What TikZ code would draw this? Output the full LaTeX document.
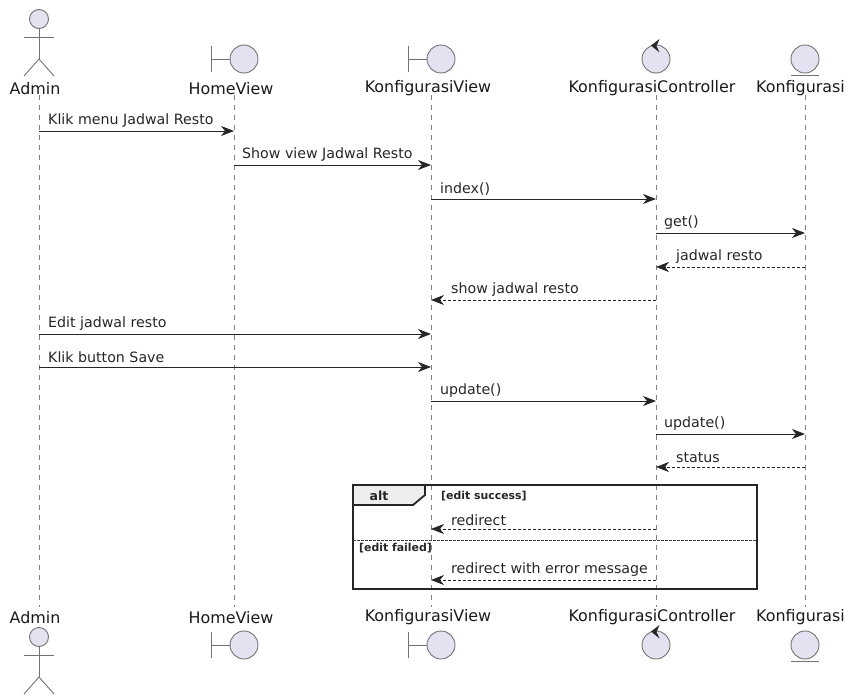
\documentclass[tikz,border=0pt]{standalone}
\usepackage{fontspec}
\setmainfont{DejaVu Sans}
\usetikzlibrary{arrows.meta}
\tikzset{
  headlabel/.style={font=\fontsize{15.9}{19}\selectfont, text=black!90, inner sep=0pt},
  msglabel/.style={font=\fontsize{14.2}{17}\selectfont, text=black!85, anchor=west, inner sep=0pt},
  guardlabel/.style={font=\bfseries\fontsize{10.9}{13}\selectfont, text=black!85, anchor=west, inner sep=0pt},
  lifeline/.style={draw=black!50, dash pattern=on 5pt off 5pt, line width=0.7pt},
  icon/.style={draw=black!55, fill=iconfill, line width=0.9pt},
  iconline/.style={draw=black!55, line width=0.9pt},
  msg/.style={-{Stealth[length=13pt,width=10pt,inset=4pt]}, draw=black!85, line width=0.9pt},
  reply/.style={msg, line width=0.7pt, dash pattern=on 3pt off 2pt},
}
\definecolor{iconfill}{HTML}{E2E2F0}
\begin{document}
\begin{tikzpicture}[x=1pt, y=-1pt]
    \useasboundingbox (0,0) rectangle (846,698);

    % lifelines
    \foreach \name/\x in {admin/39, home/234, kview/431, kctrl/656, konf/805} {
      \coordinate (\name Top) at (\x,95);
      \coordinate (\name Bot) at (\x,607);
      \draw[lifeline] (\name Top) -- (\name Bot);
    }

    % names
    \foreach \name/\x/\txt in {admin/35/Admin, home/231/HomeView, kview/428/KonfigurasiView, kctrl/652/KonfigurasiController, konf/800.5/Konfigurasi} {
      \node[headlabel] (\name LabelA) at (\x,88.5) {\txt};
      \node[headlabel] (\name LabelB) at (\x,617.5) {\txt};
    }

    % actor
    \foreach \s/\yy in {A/0, B/618} {
      \node[icon, circle, minimum size=19pt, inner sep=0pt] (adminHead\s) at (39,19+\yy) {};
      \draw[iconline] (24,37+\yy) -- (54,37+\yy);
      \draw[iconline] (adminHead\s) -- (39,59+\yy);
      \draw[iconline] (24,76+\yy) -- (39,59+\yy) -- (54,76+\yy);
    }

    % boundary
    \foreach \name/\x in {home/244, kview/441} {
      \foreach \s/\yy in {A/59, B/645} {
        \node[icon, circle, minimum size=28pt, inner sep=0pt] (\name Ball\s) at (\x,\yy) {};
        \draw[iconline] (\x-33,\yy-13) -- (\x-33,\yy+13);
        \draw[iconline] (\x-33,\yy) -- (\name Ball\s);
      }
    }

    % control
    \foreach \s/\yy in {A/59, B/645} {
      \node[icon, circle, minimum size=28pt, inner sep=0pt] (kctrlBall\s) at (656,\yy) {};
      \fill[black!85] (651,\yy-13.5) -- (659.5,\yy-20) -- (656.5,\yy-13) -- (659.5,\yy-6.5) -- cycle;
    }

    % entity
    \foreach \s/\yy/\u in {A/59/75.5, B/645/661} {
      \node[icon, circle, minimum size=28pt, inner sep=0pt] (konfBall\s) at (805,\yy) {};
      \draw[iconline] (791,\u) -- (819,\u);
    }

    % rows
    \foreach \r/\y in {1/131, 2/165, 3/199, 4/233, 5/267, 6/300, 7/334, 8/367, 9/401, 10/434, 11/467, 12/529, 13/580} {
      \coordinate (row\r) at (0,\y);
    }

    % messages
    \draw[msg] (adminTop |- row1) -- (homeTop |- row1);
    \node[msglabel] (txtA) at (48,121) {Klik menu Jadwal Resto};
    \draw[msg] (homeTop |- row2) -- (kviewTop |- row2);
    \node[msglabel] (txtB) at (242,155) {Show view Jadwal Resto};
    \draw[msg] (kviewTop |- row3) -- (kctrlTop |- row3);
    \node[msglabel] (txtC) at (440,189) {index()};
    \draw[msg] (kctrlTop |- row4) -- (konfTop |- row4);
    \node[msglabel] (txtD) at (664,223) {get()};
    \draw[reply] (konfTop |- row5) -- (kctrlTop |- row5);
    \node[msglabel] (txtE) at (676,257) {jadwal resto};
    \draw[reply] (kctrlTop |- row6) -- (kviewTop |- row6);
    \node[msglabel] (txtF) at (451,290) {show jadwal resto};
    \draw[msg] (adminTop |- row7) -- (kviewTop |- row7);
    \node[msglabel] (txtG) at (48,324) {Edit jadwal resto};
    \draw[msg] (adminTop |- row8) -- (kviewTop |- row8);
    \node[msglabel] (txtH) at (48,357) {Klik button Save};
    \draw[msg] (kviewTop |- row9) -- (kctrlTop |- row9);
    \node[msglabel] (txtI) at (440,391) {update()};
    \draw[msg] (kctrlTop |- row10) -- (konfTop |- row10);
    \node[msglabel] (txtJ) at (664,424) {update()};
    \draw[reply] (konfTop |- row11) -- (kctrlTop |- row11);
    \node[msglabel] (txtK) at (676,458) {status};

    % alt frame
    \draw[draw=black!85, line width=1.8pt, fill=black!7] (353,485) -- (425,485) -- (425,495) -- (413,505) -- (353,505) -- cycle;
    \draw[draw=black!85, line width=1.8pt] (353,485) rectangle (757,589);
    \node[font=\bfseries\fontsize{12.5}{14}\selectfont, text=black!85, inner sep=0pt] (altLabel) at (379,496) {alt};
    \node[guardlabel] (guardA) at (441,496) {[edit success]};
    \draw[black!75, line width=0.8pt, dash pattern=on 2.5pt off 1.5pt] (353,540) -- (757,540);
    \node[guardlabel] (guardB) at (359,548) {[edit failed]};

    \draw[reply] (kctrlTop |- row12) -- (kviewTop |- row12);
    \node[msglabel] (txtL) at (451,520) {redirect};
    \draw[reply] (kctrlTop |- row13) -- (kviewTop |- row13);
    \node[msglabel] (txtM) at (451,570) {redirect with error message};
\end{tikzpicture}
\end{document}
